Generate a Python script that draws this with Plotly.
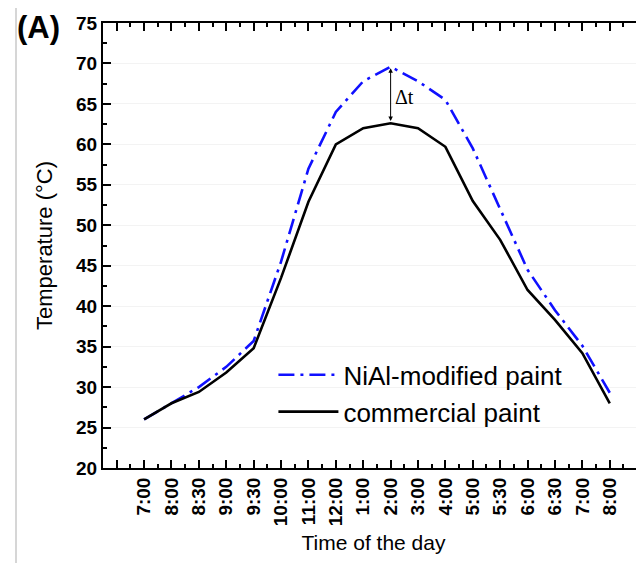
import plotly.graph_objects as go

time_labels = ["7:00", "8:00", "8:30", "9:00", "9:30", "10:00", "11:00", "12:00",
               "1:00", "2:00", "3:00", "4:00", "5:00", "5:30", "6:00", "6:30",
               "7:00", "8:00"]
nial_temp = [26, 28, 30, 32.5, 35.7, 45.5, 57, 64, 67.8, 69.6, 67.8, 65.5,
             59.5, 52, 44.5, 39.5, 35.1, 29.3]
commercial_temp = [26, 28, 29.4, 31.8, 34.8, 43.5, 52.9, 60, 62, 62.6, 62,
                   59.7, 53, 48.2, 42, 38.3, 34.2, 28]

x_idx = list(range(len(time_labels)))
FONT = "Liberation Sans, Arial, sans-serif"

fig = go.Figure()
fig.add_trace(go.Scatter(
    x=x_idx, y=nial_temp, mode="lines", name="NiAl-modified paint",
    line=dict(color="#1010ff", width=2.6, dash="16px,6px,3px,6px"),
))
fig.add_trace(go.Scatter(
    x=x_idx, y=commercial_temp, mode="lines", name="commercial paint",
    line=dict(color="black", width=2.6),
))

peak_i = nial_temp.index(max(nial_temp))
fig.add_annotation(
    x=peak_i, y=nial_temp[peak_i] - 0.2, ax=peak_i, ay=commercial_temp[peak_i] + 0.1,
    xref="x", yref="y", axref="x", ayref="y", text="", showarrow=True,
    arrowhead=2, arrowside="end+start", arrowsize=0.9, arrowwidth=1, arrowcolor="black",
)
fig.add_annotation(
    x=peak_i + 0.1, y=(nial_temp[peak_i] + commercial_temp[peak_i]) / 2 - 0.3,
    xref="x", yref="y", text="Δt", showarrow=False, xanchor="left",
    font=dict(family="Liberation Serif, Times New Roman, serif", size=20, color="black"),
)
fig.add_annotation(
    x=-0.1627, y=0.989, xref="paper", yref="paper", text="<b>(A)</b>", showarrow=False,
    xanchor="left", yanchor="middle", font=dict(family=FONT, size=31, color="black"),
)
fig.add_shape(type="line", xref="paper", yref="paper", x0=-0.1608, x1=-0.1608,
              y0=-0.3, y1=1.1, line=dict(color="#d6d6d6", width=2))

tickvals = list(range(-1, len(time_labels) + 1))
ticktext = [""] + time_labels + [""]

fig.update_xaxes(
    range=[-1.5, 18.25], tickmode="array", tickvals=tickvals, ticktext=ticktext,
    tickangle=-90, ticks="inside", ticklen=8, tickwidth=1.5, tickcolor="black",
    showline=True, linecolor="black", linewidth=2, mirror="ticks", showgrid=False,
    zeroline=False,
    tickfont=dict(family=FONT, size=19, color="black", weight="bold"),
    minor=dict(tick0=0.5, dtick=1, ticks="inside", ticklen=4, tickwidth=1.5,
               tickcolor="black", showgrid=False),
    title=dict(text="Time of the day", font=dict(family=FONT, size=21, color="black"),
               standoff=10),
)
fig.update_yaxes(
    range=[20, 75], tickmode="linear", tick0=20, dtick=5,
    ticks="inside", ticklen=8, tickwidth=1.5, tickcolor="black",
    showline=True, linecolor="black", linewidth=2, mirror=False,
    showgrid=True, gridcolor="#f3f3f3", gridwidth=1, zeroline=False,
    tickfont=dict(family=FONT, size=19, color="black", weight="bold"),
    minor=dict(tick0=20, dtick=2.5, ticks="inside", ticklen=4, tickwidth=1.5,
               tickcolor="black", showgrid=False),
    title=dict(text="Temperature (°C)", font=dict(family=FONT, size=22, color="black"),
               standoff=17),
)

fig.update_layout(
    width=636, height=555,
    margin=dict(l=95, r=0, t=15, b=95),
    plot_bgcolor="white", paper_bgcolor="white",
    showlegend=True,
    legend=dict(x=0.315, y=0.262, xanchor="left", yanchor="top",
                bgcolor="rgba(0,0,0,0)", font=dict(family=FONT, size=26, color="black"),
                itemwidth=60, tracegroupgap=0),
    font=dict(family=FONT, color="black"),
)

fig.write_html("out.html")
